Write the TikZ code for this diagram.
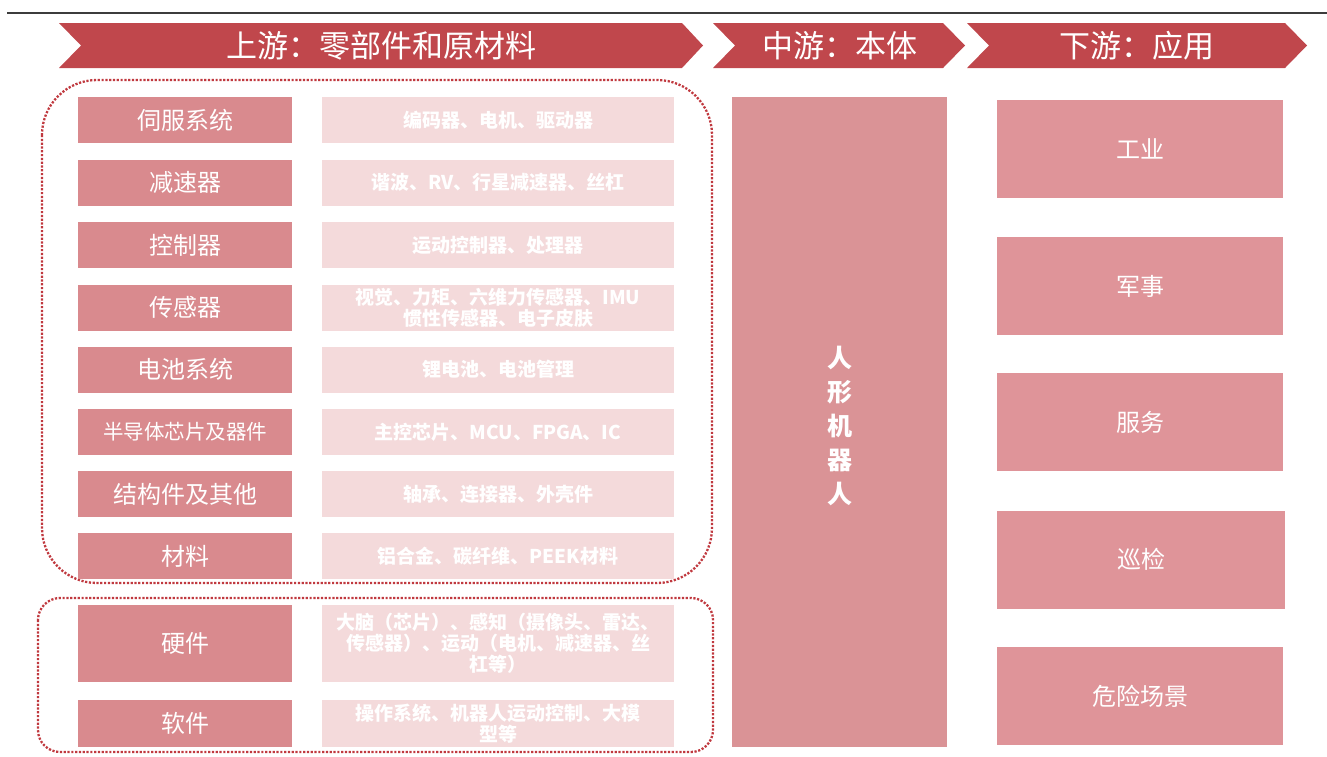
\documentclass[tikz,border=0pt]{standalone}
\usepackage{fontspec}
\setmainfont{Noto Sans CJK SC}
\newfontfamily\cjk{Noto Sans CJK SC}
\definecolor{chev}{HTML}{C0474C}
\definecolor{pinkbox}{HTML}{D98A8E}
\definecolor{midbox}{HTML}{DA9396}
\definecolor{rightbox}{HTML}{DF9499}
\definecolor{lightbox}{HTML}{F4DADB}
\definecolor{dotred}{HTML}{C0393F}
\definecolor{topline}{HTML}{3C3C3C}
\tikzset{
  chevron/.style={fill=chev,draw=none},
  chevtext/.style={text=white,font=\cjk\fontsize{31}{33}\selectfont,inner sep=0pt},
  partbox/.style={fill=pinkbox,draw=none,minimum width=214pt,minimum height=46pt,inner sep=0pt,text=white,font=\cjk\fontsize{24}{26}\selectfont},
  descbox/.style={fill=lightbox,draw=none,minimum width=352pt,minimum height=46pt,inner sep=2pt,text=white,font=\cjk\bfseries\fontsize{19}{21}\selectfont,align=center,text width=330pt},
  appbox/.style={fill=rightbox,draw=none,minimum width=286pt,minimum height=98pt,inner sep=0pt,text=white,font=\cjk\fontsize{24}{26}\selectfont},
  dotframe/.style={draw=dotred,line width=2.3pt,dash pattern=on 2.2pt off 1.6pt}
}
\begin{document}
\begin{tikzpicture}[x=1pt,y=-1pt]
\useasboundingbox (0,0) rectangle (1327,756);
% top rule
\draw[topline,line width=2pt] (7,13) -- (1327,13);
% chevrons
\fill[chevron] (59,23) -- (682,23) -- (703,45.5) -- (682,68) -- (59,68) -- (81,45.5) -- cycle;
\fill[chevron] (713,23) -- (943,23) -- (965,45.5) -- (943,68) -- (713,68) -- (735,45.5) -- cycle;
\fill[chevron] (967,23) -- (1285,23) -- (1307,45.5) -- (1285,68) -- (967,68) -- (989,45.5) -- cycle;
\node[chevtext] (t1) at (381,45.5) {上游：零部件和原材料};
\node[chevtext] (t2) at (840,45.5) {中游：本体};
\node[chevtext] (t3) at (1137,45.5) {下游：应用};
% dotted frames
\draw[dotframe,rounded corners=55pt] (42,80) rectangle (712,583);
\draw[dotframe,rounded corners=22pt] (38,598) rectangle (713,752);
% left part boxes
\node[partbox] (p1) at (185,120) {伺服系统};
\node[partbox] (p2) at (185,182.5) {减速器};
\node[partbox] (p3) at (185,245) {控制器};
\node[partbox] (p4) at (185,307.5) {传感器};
\node[partbox] (p5) at (185,369.5) {电池系统};
\node[partbox,font=\cjk\fontsize{20.5}{22}\selectfont] (p6) at (185,432) {半导体芯片及器件};
\node[partbox] (p7) at (185,494) {结构件及其他};
\node[partbox] (p8) at (185,556) {材料};
\node[partbox,minimum height=77pt] (p9) at (185,643.5) {硬件};
\node[partbox,minimum height=47pt] (p10) at (185,723.5) {软件};
% description boxes
\node[descbox] (d1) at (498,120) {编码器、电机、驱动器};
\node[descbox] (d2) at (498,182.5) {谐波、RV、行星减速器、丝杠};
\node[descbox] (d3) at (498,245) {运动控制器、处理器};
\node[descbox] (d4) at (498,307.5) {视觉、力矩、六维力传感器、IMU\\惯性传感器、电子皮肤};
\node[descbox] (d5) at (498,369.5) {锂电池、电池管理};
\node[descbox] (d6) at (498,432) {主控芯片、MCU、FPGA、IC};
\node[descbox] (d7) at (498,494) {轴承、连接器、外壳件};
\node[descbox] (d8) at (498,556) {铝合金、碳纤维、PEEK材料};
\node[descbox,minimum height=77pt] (d9) at (498,643.5) {大脑（芯片）、感知（摄像头、雷达、\\传感器）、运动（电机、减速器、丝\\杠等）};
\node[descbox,minimum height=47pt] (d10) at (498,723.5) {操作系统、机器人运动控制、大模\\型等};
% middle
\node[fill=midbox,minimum width=215pt,minimum height=650pt,inner sep=0pt] (mid) at (839.5,422) {};
\node[text=white,font=\cjk\bfseries\fontsize{25}{34}\selectfont,align=center,inner sep=0pt] (midt) at (839.5,426) {人\\形\\机\\器\\人};
% right application boxes
\node[appbox] (a1) at (1140,149) {工业};
\node[appbox] (a2) at (1140,286) {军事};
\node[appbox] (a3) at (1140,422) {服务};
\node[appbox,minimum width=288pt] (a4) at (1141,559.5) {巡检};
\node[appbox] (a5) at (1140,696) {危险场景};
\end{tikzpicture}
\end{document}
